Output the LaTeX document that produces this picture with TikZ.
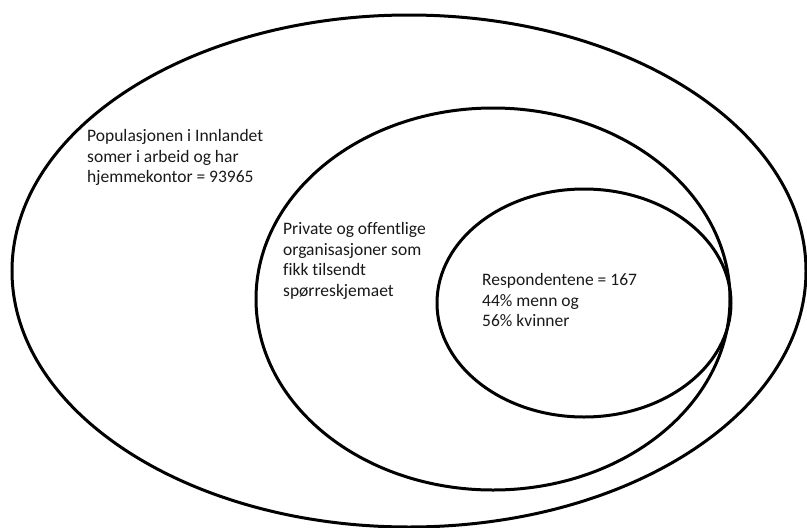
\documentclass[tikz,border=0pt]{standalone}
\usepackage{fontspec}
\setmainfont[Ligatures=NoCommon]{Carlito}
\usetikzlibrary{positioning}

\begin{document}
\begin{tikzpicture}[x=1pt,y=-1pt,
    krets/.style={line width=3pt,black},
    tekst/.style={anchor=north west,inner sep=0pt,align=left,text=black!90,
      font=\fontsize{17.5}{20.8}\selectfont}]
		\useasboundingbox (0,0) rectangle (807,528);
		% populasjon, organisasjoner, respondenter
		\draw[krets] (409,271) ellipse [x radius=397, y radius=256];
		\draw[krets] (493,299) ellipse [x radius=237, y radius=191];
		\draw[krets] (584,303) ellipse [x radius=147, y radius=114];
		
		\node[tekst] (populasjon) at (87,129)
		    {Populasjonen i Innlandet\\somer i arbeid og har\\hjemmekontor = 93965};
		\node[tekst] (organisasjoner) at (283,222)
		    {Private og offentlige\\organisasjoner som\\fikk tilsendt\\spørreskjemaet};
		\node[tekst] (respondenter) at (482,273)
		    {Respondentene = 167\\44\% menn og\\56\% kvinner};
		
		\end{tikzpicture}
\end{document}
